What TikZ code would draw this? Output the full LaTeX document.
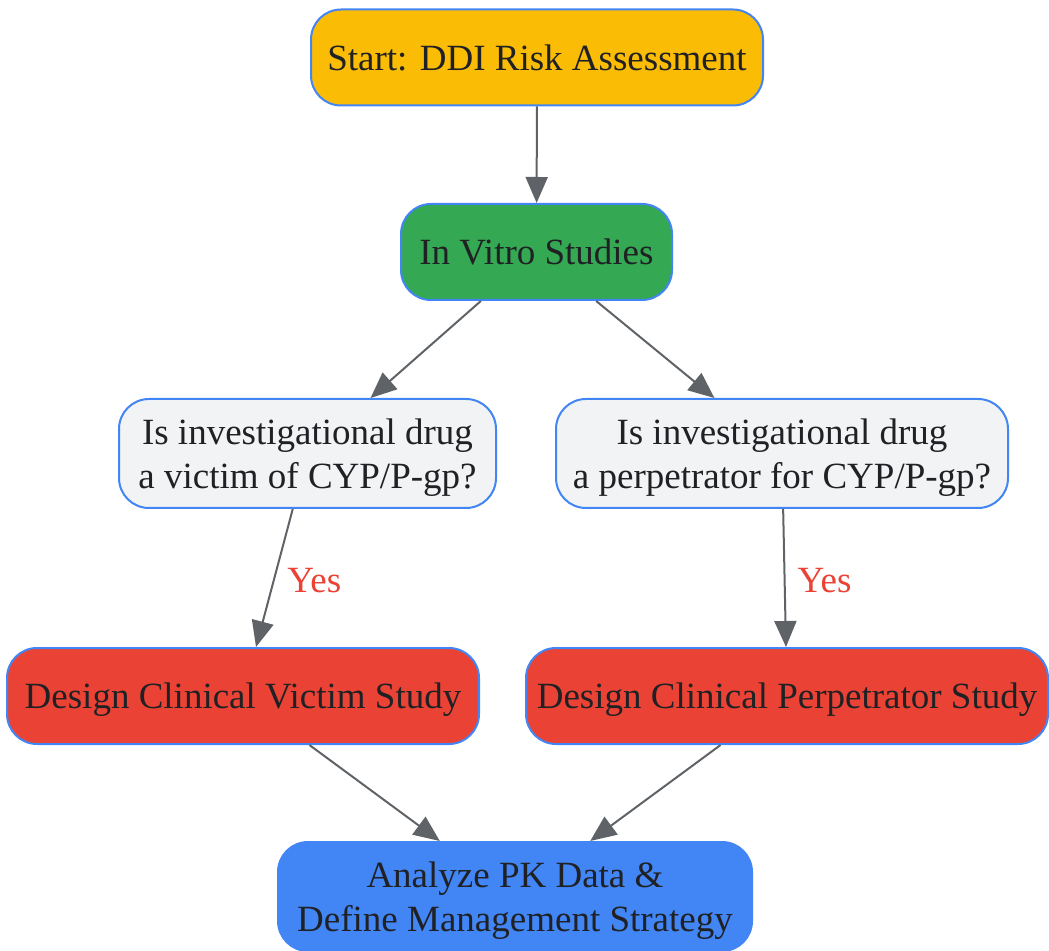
\documentclass[tikz,border=0pt]{standalone}
\usepackage{fontspec}
\setmainfont{Liberation Serif}
\usetikzlibrary{arrows.meta}

\definecolor{startfill}{HTML}{FBBC05}
\definecolor{vitrofill}{HTML}{34A853}
\definecolor{askfill}{HTML}{F1F3F4}
\definecolor{studyfill}{HTML}{EA4335}
\definecolor{blueline}{HTML}{4285F4}
\definecolor{edgegrey}{HTML}{5F6368}
\definecolor{textdark}{HTML}{202124}

\tikzset{
	Box/.style = {draw=blueline, line width=1pt, rounded corners=15pt, align=center,
		text=textdark, inner sep=0pt, text depth=0pt, font=\fontsize{18.5}{22}\selectfont},
	OneLine/.style = {Box, minimum height=48pt},
	TwoLine/.style = {Box, minimum height=54.5pt},
	EdgeStyle/.style = {draw=edgegrey, line width=1pt, -{Triangle[length=13pt,width=11pt]}},
	YesLabel/.style = {midway, right=6pt, inner sep=0pt, yshift=-1.5pt, text=studyfill,
		font=\fontsize{18.5}{22}\selectfont}
}

\begin{document}
\begin{tikzpicture}[x=0.5pt,y=-0.5pt]
	\useasboundingbox (0,0) rectangle (1049,951);

	\node[OneLine, fill=startfill, minimum width=226pt] (Start) at (537,57.5) {Start: DDI Risk Assessment};
	\node[OneLine, fill=vitrofill, minimum width=135.5pt] (Vitro) at (536.5,252) {In Vitro Studies};
	\node[TwoLine, fill=askfill, minimum width=188.5pt] (AskVictim) at (307.5,453.5) {Is investigational drug\\a victim of CYP/P-gp?};
	\node[TwoLine, fill=askfill, minimum width=226pt] (AskPerp) at (782,453.5) {Is investigational drug\\a perpetrator for CYP/P-gp?};
	\node[OneLine, fill=studyfill, minimum width=236pt] (VictimStudy) at (243,696) {Design Clinical Victim Study};
	\node[OneLine, fill=studyfill, minimum width=261pt] (PerpStudy) at (787,696) {Design Clinical Perpetrator Study};
	\node[TwoLine, fill=blueline, minimum width=237pt] (Analyze) at (515,896.5) {Analyze PK Data \&\\Define Management Strategy};

	\draw[EdgeStyle] (Start) -- (Vitro);
	\draw[EdgeStyle] (Vitro) -- (AskVictim);
	\draw[EdgeStyle] (Vitro) -- (AskPerp);
	\draw[EdgeStyle] (AskVictim) -- node[YesLabel] {Yes} (VictimStudy);
	\draw[EdgeStyle] (AskPerp) -- node[YesLabel] {Yes} (PerpStudy);
	\draw[EdgeStyle] (VictimStudy) -- (Analyze);
	\draw[EdgeStyle] (PerpStudy) -- (Analyze);
\end{tikzpicture}
\end{document}
